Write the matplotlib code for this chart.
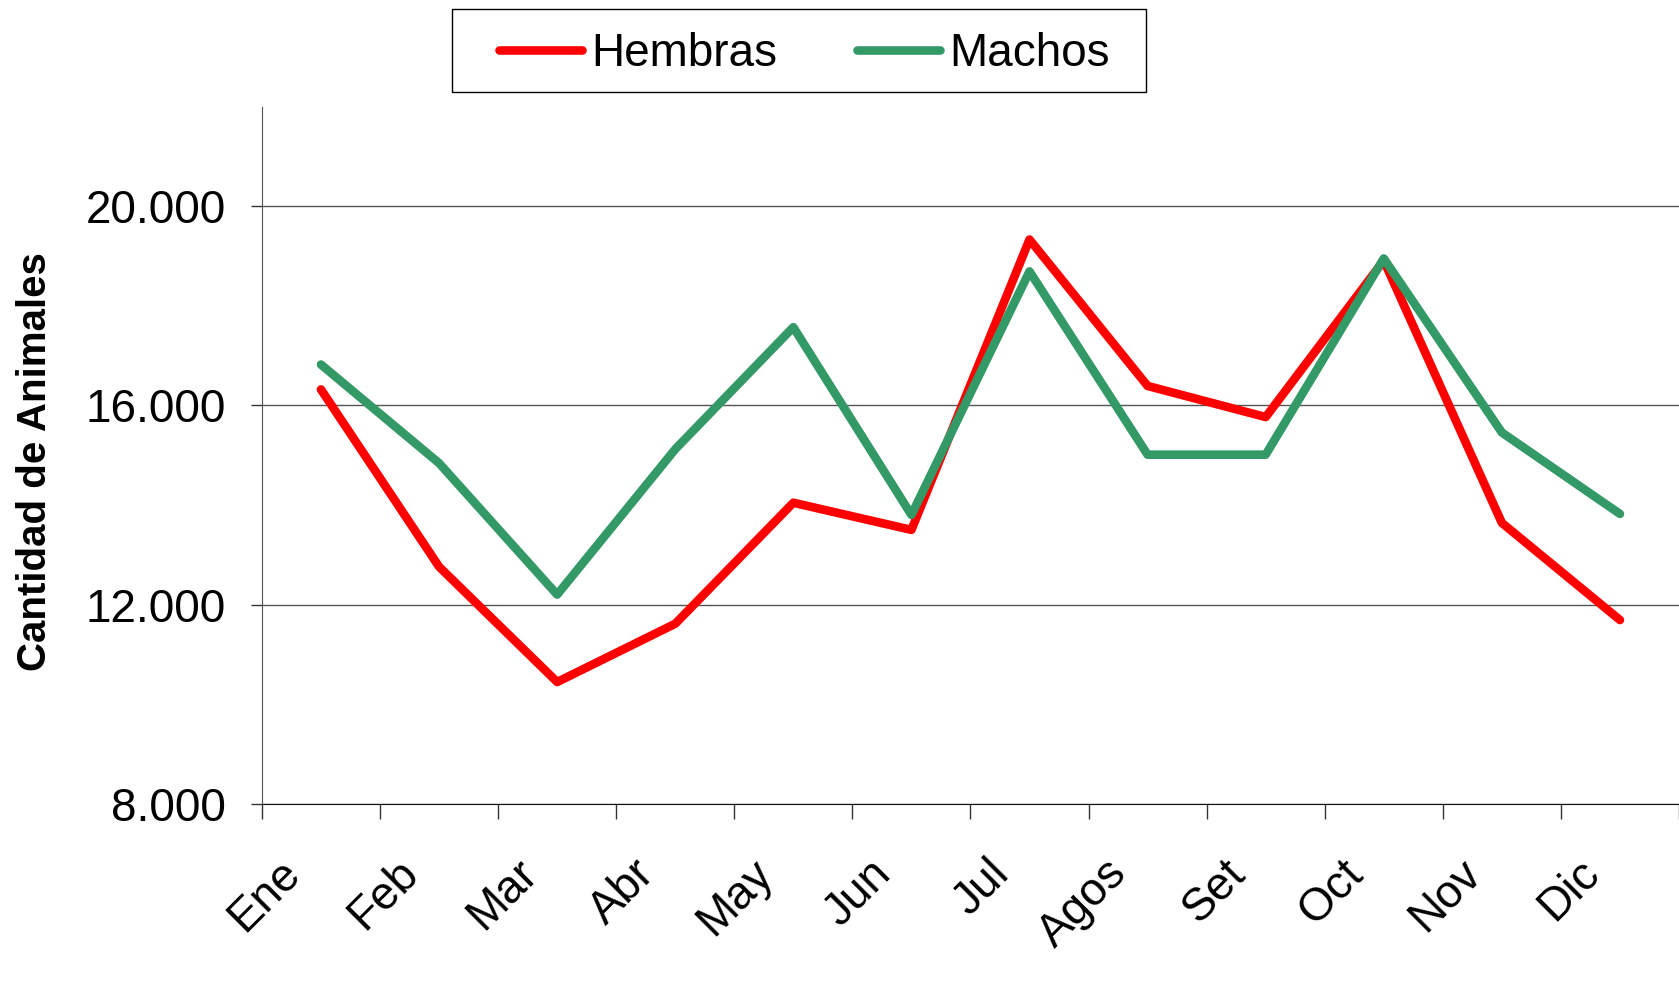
import matplotlib
matplotlib.use("Agg")
import matplotlib.pyplot as plt
import matplotlib.transforms as mtransforms
from matplotlib.patches import Rectangle
import numpy as np

plt.rcParams['font.family'] = ['Liberation Sans', 'DejaVu Sans']

meses = ['Ene', 'Feb', 'Mar', 'Abr', 'May', 'Jun', 'Jul', 'Agos', 'Set', 'Oct', 'Nov', 'Dic']
hembras = [16320, 12760, 10445, 11615, 14045, 13500, 19330, 16390, 15765, 18910, 13640, 11690]
machos = [16820, 14840, 12200, 15120, 17570, 13800, 18690, 15010, 15010, 18950, 15455, 13820]

fig = plt.figure(figsize=(16.79, 9.96), dpi=100)
ax = fig.add_axes([0.156, 0.193, 0.844, 0.70])

x = np.arange(len(meses))
l1, = ax.plot(x, hembras, color='#FF0000', lw=6.2, solid_capstyle='round', label='Hembras', zorder=3)
l2, = ax.plot(x, machos, color='#339966', lw=6.2, solid_capstyle='round', label='Machos', zorder=3)

ax.set_xlim(-0.5, 11.5)
ax.set_ylim(8000, 22000)
ax.set_yticks([8000, 12000, 16000, 20000])
ax.set_yticklabels(['8.000', '12.000', '16.000', '20.000'])
ax.yaxis.grid(True, color='#555555', lw=1)
ax.set_axisbelow(True)

# category ticks sit on the boundaries, labels on the centres
ax.set_xticks(np.arange(-0.5, 12, 1), minor=True)
ax.set_xticks(x)
ax.set_xticklabels(meses, rotation=45, ha='right', va='center', rotation_mode='anchor')
ax.tick_params(axis='x', which='major', length=0, pad=34, labelsize=33)
ax.tick_params(axis='x', which='minor', length=11, width=1, color='#333333', direction='out')
ax.tick_params(axis='y', length=8, width=1, color='#333333', pad=18, labelsize=33)
shift = mtransforms.ScaledTranslation(-0.27, -0.16, fig.dpi_scale_trans)
for lab in ax.get_xticklabels():
    lab.set_transform(lab.get_transform() + shift)

for s in ['top', 'right']:
    ax.spines[s].set_visible(False)
ax.spines['left'].set_color('#555555')
ax.spines['bottom'].set_color('#111111')

fig.text(0.021, 0.537, 'Cantidad de Animales', rotation=90, fontsize=29,
         fontweight='bold', ha='center', va='center')

leg = fig.legend(handles=[l1, l2], loc='center', bbox_to_anchor=(0.479, 0.946), ncol=2,
                 fontsize=33, frameon=False,
                 handlelength=1.8, handletextpad=0.2, columnspacing=1.75,
                 borderpad=0.2, borderaxespad=0)
fig.patches.append(Rectangle((0.269, 0.9076), 0.4136, 0.0834, transform=fig.transFigure,
                             facecolor='none', edgecolor='black', lw=1))

fig.savefig('out.png', dpi=100)
